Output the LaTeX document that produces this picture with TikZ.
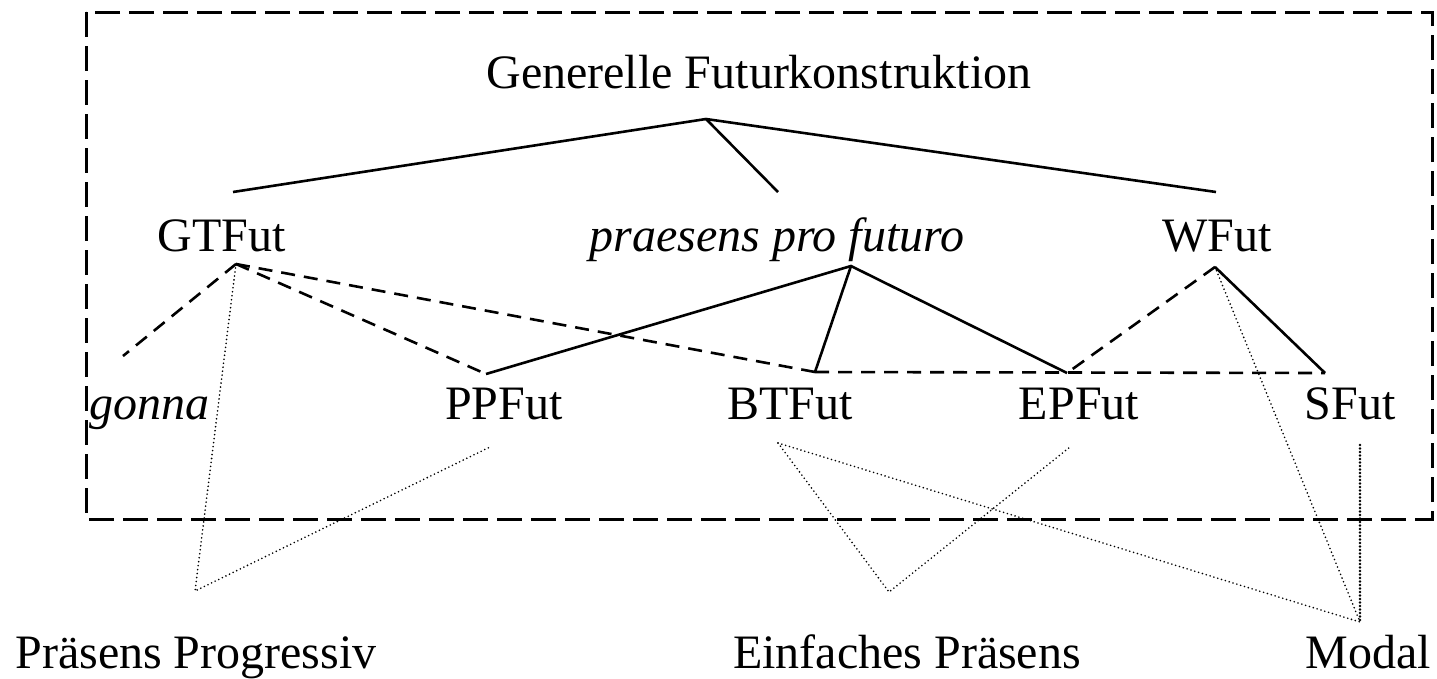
\documentclass[tikz,border=0pt]{standalone}
\usepackage{fontspec}
\setmainfont{Liberation Serif}
\begin{document}
\begin{tikzpicture}[x=1pt,y=-1pt,
  lbl/.style={anchor=base,inner sep=0pt,font=\fontsize{48}{56}\selectfont},
  solidln/.style={line width=2.6pt},
  dashln/.style={line width=2.6pt,dash pattern=on 14pt off 9pt},
  dotln/.style={line width=1.8pt,line cap=round,dash pattern=on 0pt off 4pt},
  boxln/.style={line width=3pt,dash pattern=on 25pt off 9pt}]
\useasboundingbox (0,0) rectangle (1437,678);
\draw[boxln] (86,12) rectangle (1432,519);
% labels
\node[lbl] (gen) at (759,88) {Generelle Futurkonstruktion};
\node[lbl] (gt) at (222,251) {GTFut};
\node[lbl] (ppf) at (777,251) {\itshape praesens pro futuro};
\node[lbl] (wf) at (1217,251) {WFut};
\node[lbl] (go) at (149,419) {\itshape gonna};
\node[lbl] (pp) at (504,419) {PPFut};
\node[lbl] (bt) at (790,419) {BTFut};
\node[lbl] (ep) at (1079,419) {EPFut};
\node[lbl] (sf) at (1350,419) {SFut};
\node[lbl] (prog) at (196,668) {Präsens Progressiv};
\node[lbl] (ein) at (907,668) {Einfaches Präsens};
\node[lbl] (mod) at (1368,668) {Modal};
% connection points
\coordinate (genB) at (706,119);
\coordinate (gtT) at (233,192);
\coordinate (ppfT) at (778,192);
\coordinate (wfT) at (1216,192);
\coordinate (gtB) at (236,264);
\coordinate (ppfB) at (851,266);
\coordinate (wfB) at (1215,267);
\coordinate (goT) at (123,356);
\coordinate (ppT) at (486,374);
\coordinate (btT) at (815,372);
\coordinate (epT) at (1067,373);
\coordinate (sfT) at (1325,373);
\coordinate (ppB) at (490,447);
\coordinate (btB) at (778,443);
\coordinate (epB) at (1070,447);
\coordinate (sfB) at (1360,445);
\coordinate (progT) at (195,591);
\coordinate (einT) at (889,592);
\coordinate (modT) at (1360,622);
% solid
\draw[solidln] (gtT) -- (genB) -- (wfT);
\draw[solidln] (genB) -- (ppfT);
\draw[solidln] (ppT) -- (ppfB) -- (epT);
\draw[solidln] (ppfB) -- (btT);
\draw[solidln] (wfB) -- (sfT);
% dashed
\draw[dashln] (gtB) -- (goT);
\draw[dashln] (gtB) -- (ppT);
\draw[dashln] (gtB) -- (btT);
\draw[dashln] (btT) -- (sfT);
\draw[dashln] (wfB) -- (epT);
% dotted
\draw[dotln] (gtB) -- (progT) -- (ppB);
\draw[dotln] (btB) -- (einT) -- (epB);
\draw[dotln] (btB) -- (modT);
\draw[dotln] (wfB) -- (modT);
\draw[dotln,line width=2.6pt,dash pattern=on 0pt off 3.5pt] (sfB) -- (modT);
\end{tikzpicture}
\end{document}
